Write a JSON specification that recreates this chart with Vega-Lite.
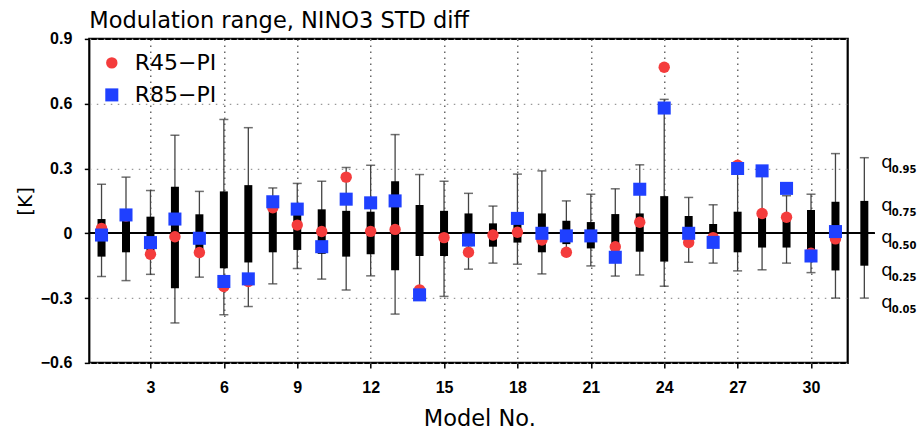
{
  "$schema": "https://vega.github.io/schema/vega-lite/v6.json",
  "width": 758.4,
  "height": 324,
  "autosize": {"type": "none"},
  "padding": {"left": 89.3, "top": 38.9, "right": 71.3, "bottom": 67.1},
  "background": "white",
  "title": {
    "text": "Modulation range, NINO3 STD diff",
    "anchor": "start",
    "frame": "group",
    "font": "DejaVu Sans",
    "fontSize": 22.5,
    "fontWeight": "normal",
    "color": "black",
    "baseline": "alphabetic",
    "offset": 9,
    "dy": 29
  },
  "config": {
    "view": {"stroke": "black", "strokeWidth": 2.2},
    "axisX": {
      "domain": false,
      "tickColor": "black",
      "tickSize": 5,
      "tickWidth": 1.5,
      "labelFont": "Liberation Sans",
      "labelFontWeight": "bold",
      "labelFontSize": 16,
      "labelColor": "black",
      "labelPadding": 12,
      "titleFont": "DejaVu Sans",
      "titleFontWeight": "normal",
      "titleFontSize": 22.5,
      "titleColor": "black",
      "titlePadding": 11.5,
      "gridColor": "#444",
      "gridDash": [1.5, 4.5],
      "gridWidth": 1.2
    },
    "axisY": {
      "domain": false,
      "tickColor": "black",
      "tickSize": 5,
      "tickWidth": 1.5,
      "labelFont": "Liberation Sans",
      "labelFontWeight": "bold",
      "labelFontSize": 16,
      "labelColor": "black",
      "labelPadding": 12.5,
      "titleFont": "DejaVu Sans",
      "titleFontWeight": "normal",
      "titleFontSize": 20,
      "titleColor": "black",
      "titlePadding": 4.5,
      "gridColor": "#999",
      "gridDash": [1.5, 5.5],
      "gridWidth": 1.2
    }
  },
  "datasets": {
    "models": [
      {"model": 1, "q05": -0.2, "q25": -0.108, "q75": 0.066, "q95": 0.227, "r45": 0.023, "r85": -0.008},
      {"model": 2, "q05": -0.219, "q25": -0.088, "q75": 0.07, "q95": 0.26, "r45": 0.08, "r85": 0.085},
      {"model": 3, "q05": -0.19, "q25": -0.08, "q75": 0.077, "q95": 0.198, "r45": -0.097, "r85": -0.043},
      {"model": 4, "q05": -0.415, "q25": -0.254, "q75": 0.215, "q95": 0.454, "r45": -0.016, "r85": 0.066},
      {"model": 5, "q05": -0.203, "q25": -0.077, "q75": 0.088, "q95": 0.194, "r45": -0.089, "r85": -0.023},
      {"model": 6, "q05": -0.377, "q25": -0.162, "q75": 0.194, "q95": 0.527, "r45": -0.246, "r85": -0.223},
      {"model": 7, "q05": -0.339, "q25": -0.135, "q75": 0.223, "q95": 0.489, "r45": -0.223, "r85": -0.211},
      {"model": 8, "q05": -0.234, "q25": -0.088, "q75": 0.13, "q95": 0.21, "r45": 0.118, "r85": 0.146},
      {"model": 9, "q05": -0.163, "q25": -0.077, "q75": 0.1, "q95": 0.231, "r45": 0.038, "r85": 0.112},
      {"model": 10, "q05": -0.212, "q25": -0.095, "q75": 0.111, "q95": 0.241, "r45": 0.008, "r85": -0.062},
      {"model": 11, "q05": -0.262, "q25": -0.108, "q75": 0.104, "q95": 0.305, "r45": 0.26, "r85": 0.158},
      {"model": 12, "q05": -0.197, "q25": -0.097, "q75": 0.1, "q95": 0.315, "r45": 0.009, "r85": 0.141},
      {"model": 13, "q05": -0.374, "q25": -0.171, "q75": 0.241, "q95": 0.457, "r45": 0.018, "r85": 0.15},
      {"model": 14, "q05": -0.27, "q25": -0.105, "q75": 0.131, "q95": 0.272, "r45": -0.262, "r85": -0.285},
      {"model": 15, "q05": -0.292, "q25": -0.105, "q75": 0.104, "q95": 0.241, "r45": -0.02, "r85": null},
      {"model": 16, "q05": -0.166, "q25": -0.06, "q75": 0.092, "q95": 0.185, "r45": -0.088, "r85": -0.031},
      {"model": 17, "q05": -0.138, "q25": -0.062, "q75": 0.046, "q95": 0.126, "r45": -0.008, "r85": null},
      {"model": 18, "q05": -0.143, "q25": -0.043, "q75": 0.05, "q95": 0.274, "r45": 0.005, "r85": 0.069},
      {"model": 19, "q05": -0.188, "q25": -0.088, "q75": 0.092, "q95": 0.289, "r45": -0.031, "r85": 0.0},
      {"model": 20, "q05": -0.1, "q25": -0.05, "q75": 0.058, "q95": 0.15, "r45": -0.088, "r85": -0.012},
      {"model": 21, "q05": -0.151, "q25": -0.07, "q75": 0.052, "q95": 0.181, "r45": -0.012, "r85": -0.012},
      {"model": 22, "q05": -0.198, "q25": -0.1, "q75": 0.089, "q95": 0.206, "r45": -0.062, "r85": -0.111},
      {"model": 23, "q05": -0.193, "q25": -0.085, "q75": 0.092, "q95": 0.317, "r45": 0.051, "r85": 0.204},
      {"model": 24, "q05": -0.245, "q25": -0.131, "q75": 0.172, "q95": 0.62, "r45": 0.769, "r85": 0.58},
      {"model": 25, "q05": -0.134, "q25": -0.04, "q75": 0.08, "q95": 0.166, "r45": -0.043, "r85": 0.0},
      {"model": 26, "q05": -0.138, "q25": -0.03, "q75": 0.043, "q95": 0.132, "r45": -0.02, "r85": -0.042},
      {"model": 27, "q05": -0.174, "q25": -0.088, "q75": 0.1, "q95": 0.29, "r45": 0.315, "r85": 0.3},
      {"model": 28, "q05": -0.169, "q25": -0.066, "q75": 0.1, "q95": 0.28, "r45": 0.092, "r85": 0.289},
      {"model": 29, "q05": -0.138, "q25": -0.066, "q75": 0.07, "q95": 0.174, "r45": 0.074, "r85": 0.208},
      {"model": 30, "q05": -0.182, "q25": -0.1, "q75": 0.108, "q95": 0.181, "r45": -0.092, "r85": -0.105},
      {"model": 31, "q05": -0.3, "q25": -0.172, "q75": 0.146, "q95": 0.369, "r45": -0.026, "r85": 0.008},
      {"model": 32.18, "q05": -0.3, "q25": -0.15, "q75": 0.15, "q95": 0.35, "r45": null, "r85": null}
    ],
    "keylabels": [
      {"model": 32.18, "value": 0.35, "sub": "0.95"},
      {"model": 32.18, "value": 0.15, "sub": "0.75"},
      {"model": 32.18, "value": 0.0, "sub": "0.50"},
      {"model": 32.18, "value": -0.15, "sub": "0.25"},
      {"model": 32.18, "value": -0.3, "sub": "0.05"}
    ]
  },
  "data": {"name": "models"},
  "encoding": {
    "x": {
      "field": "model",
      "type": "quantitative",
      "title": "Model No.",
      "scale": {"domain": [0.5, 31.5], "nice": false, "zero": false},
      "axis": {"values": [3, 6, 9, 12, 15, 18, 21, 24, 27, 30], "grid": true, "titleX": 390, "titleAnchor": "start", "titleAlign": "center"}
    }
  },
  "layer": [
    {
      "mark": {"type": "rule", "color": "#444", "strokeWidth": 1.3},
      "encoding": {
        "y": {
          "field": "q05",
          "type": "quantitative",
          "title": "[K]",
          "scale": {"domain": [-0.6, 0.9], "nice": false, "zero": false},
          "axis": {"values": [-0.6, -0.3, 0, 0.3, 0.6, 0.9], "grid": true, "format": ".1~f", "labelExpr": "datum.value == 0 ? '0' : datum.label"}
        },
        "y2": {"field": "q95"}
      }
    },
    {
      "mark": {"type": "rule", "color": "black", "strokeWidth": 1.6},
      "encoding": {
        "x": {"datum": 0.5, "type": "quantitative", "title": "Model No."},
        "x2": {"datum": 32.58},
        "y": {"datum": 0, "type": "quantitative", "title": "[K]", "scale": {"domain": [-0.6, 0.9], "nice": false, "zero": false}}
      }
    },
    {
      "transform": [{"fold": ["q05", "q95"], "as": ["stat", "capv"]}],
      "mark": {"type": "tick", "orient": "horizontal", "color": "#333", "size": 9, "thickness": 1.5},
      "encoding": {
        "y": {"field": "capv", "type": "quantitative", "title": "[K]", "scale": {"domain": [-0.6, 0.9], "nice": false, "zero": false}}
      }
    },
    {
      "mark": {"type": "rule", "color": "black", "strokeWidth": 8, "strokeCap": "butt"},
      "encoding": {
        "y": {"field": "q25", "type": "quantitative", "title": "[K]", "scale": {"domain": [-0.6, 0.9], "nice": false, "zero": false}},
        "y2": {"field": "q75"}
      }
    },
    {
      "transform": [
        {"fold": ["r45", "r85"], "as": ["series", "value"]},
        {"filter": "datum.value != null"}
      ],
      "mark": {"type": "point", "filled": true, "opacity": 1},
      "encoding": {
        "y": {"field": "value", "type": "quantitative", "title": "[K]", "scale": {"domain": [-0.6, 0.9], "nice": false, "zero": false}},
        "color": {
          "field": "series", "type": "nominal",
          "scale": {"domain": ["r45", "r85"], "range": ["#f43c3c", "#1f40ff"]},
          "legend": {
            "title": null, "orient": "none", "legendX": 11.5, "legendY": 13,
            "labelFont": "DejaVu Sans", "labelFontSize": 22, "labelColor": "black",
            "labelOffset": 12, "rowPadding": 10, "padding": 0,
            "labelExpr": "datum.label == 'r45' ? 'R45−PI' : 'R85−PI'",
            "symbolOpacity": 1, "symbolStrokeWidth": 0
          }
        },
        "shape": {
          "field": "series", "type": "nominal",
          "scale": {"domain": ["r45", "r85"], "range": ["circle", "square"]},
          "legend": {
            "title": null, "orient": "none", "legendX": 11.5, "legendY": 13,
            "labelFont": "DejaVu Sans", "labelFontSize": 22, "labelColor": "black",
            "labelOffset": 12, "rowPadding": 10, "padding": 0,
            "labelExpr": "datum.label == 'r45' ? 'R45−PI' : 'R85−PI'",
            "symbolOpacity": 1, "symbolStrokeWidth": 0
          }
        },
        "size": {
          "field": "series", "type": "nominal",
          "scale": {"domain": ["r45", "r85"], "range": [130, 170]},
          "legend": {
            "title": null, "orient": "none", "legendX": 11.5, "legendY": 13,
            "labelFont": "DejaVu Sans", "labelFontSize": 22, "labelColor": "black",
            "labelOffset": 12, "rowPadding": 10, "padding": 0,
            "labelExpr": "datum.label == 'r45' ? 'R45−PI' : 'R85−PI'",
            "symbolOpacity": 1, "symbolStrokeWidth": 0
          }
        }
      }
    },
    {
      "data": {"name": "keylabels"},
      "mark": {"type": "text", "text": "q", "font": "DejaVu Sans", "fontSize": 18, "color": "black", "align": "left", "baseline": "alphabetic", "dx": 17, "dy": 10},
      "encoding": {
        "y": {"field": "value", "type": "quantitative", "title": "[K]", "scale": {"domain": [-0.6, 0.9], "nice": false, "zero": false}}
      }
    },
    {
      "data": {"name": "keylabels"},
      "mark": {"type": "text", "font": "DejaVu Sans", "fontWeight": "bold", "fontSize": 10, "color": "black", "align": "left", "baseline": "alphabetic", "dx": 27.5, "dy": 15.3},
      "encoding": {
        "y": {"field": "value", "type": "quantitative", "title": "[K]", "scale": {"domain": [-0.6, 0.9], "nice": false, "zero": false}},
        "text": {"field": "sub"}
      }
    }
  ]
}
